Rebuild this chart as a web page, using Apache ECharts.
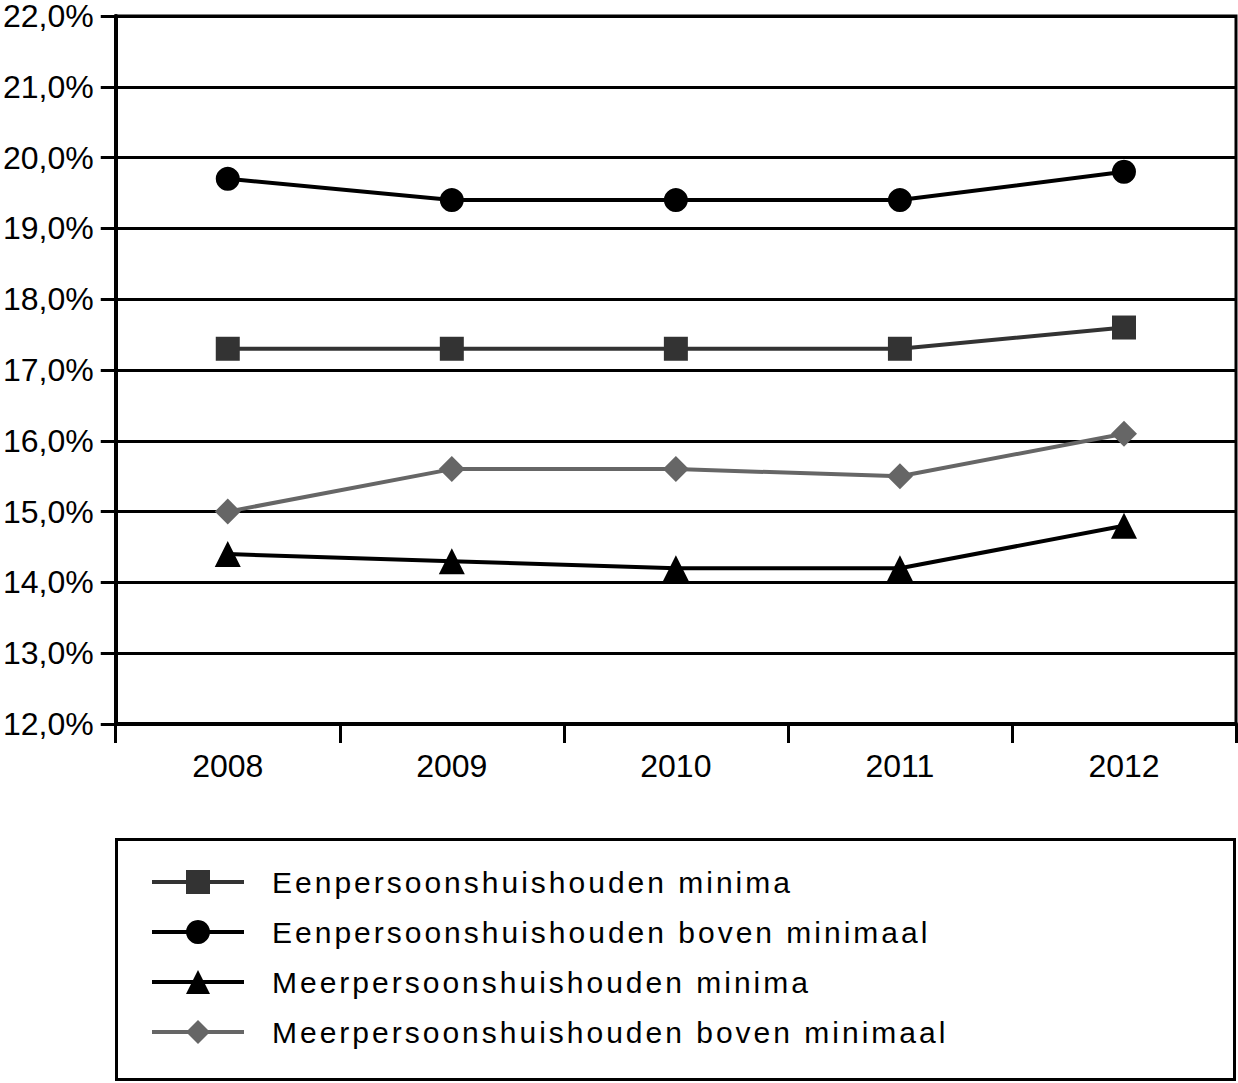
<!DOCTYPE html>
<html>
<head>
<meta charset="utf-8">
<script src="https://cdn.jsdelivr.net/npm/echarts@6/dist/echarts.min.js"></script>
<style>
  html, body { margin: 0; padding: 0; background: #fff; }
  #chart { width: 1238px; height: 1083px; }
  #chart text[style*="30px"] { letter-spacing: 3px; }
</style>
</head>
<body>
<div id="chart"></div>
<script>
const categories = ['2008', '2009', '2010', '2011', '2012'];
const eenMinima = [17.3, 17.3, 17.3, 17.3, 17.6];
const eenBoven = [19.7, 19.4, 19.4, 19.4, 19.8];
const meerMinima = [14.4, 14.3, 14.2, 14.2, 14.8];
const meerBoven = [15.0, 15.6, 15.6, 15.5, 16.1];
const seriesNames = [
  'Eenpersoonshuishouden minima',
  'Eenpersoonshuishouden boven minimaal',
  'Meerpersoonshuishouden minima',
  'Meerpersoonshuishouden boven minimaal'
];

const FONT = '"Liberation Sans", Arial, sans-serif';
const chart = echarts.init(document.getElementById('chart'), null, { renderer: 'svg' });

function mk(name, data, color, symbol, size) {
  return {
    name: name, type: 'line', data: data,
    symbol: symbol, symbolSize: size,
    lineStyle: { color: color, width: 4 },
    itemStyle: { color: color },
    emphasis: { disabled: true },
    animation: false
  };
}

chart.setOption({
  animation: false,
  backgroundColor: '#fff',
  grid: {
    left: 115, right: 2, top: 15, bottom: 359,
    show: true, borderColor: '#000', borderWidth: 3
  },
  xAxis: {
    type: 'category', data: categories, boundaryGap: true,
    axisLine: { lineStyle: { color: '#000', width: 4 } },
    axisTick: { show: true, length: 19, lineStyle: { color: '#000', width: 3 } },
    axisLabel: { color: '#000', fontSize: 32, fontFamily: FONT, margin: 26 },
    splitLine: { show: false }
  },
  yAxis: {
    type: 'value', min: 12, max: 22, interval: 1,
    axisLine: { show: true, lineStyle: { color: '#000', width: 4 } },
    axisTick: { show: true, length: 15, lineStyle: { color: '#000', width: 3 } },
    axisLabel: {
      color: '#000', fontSize: 32, fontFamily: FONT, margin: 22, lineHeight: 28,
      formatter: v => v.toFixed(1).replace('.', ',') + '%'
    },
    splitLine: { show: true, lineStyle: { color: '#000', width: 3 } }
  },
  legend: {
    orient: 'vertical', left: 150, top: 867, padding: 0,
    itemWidth: 92, itemHeight: 30, itemGap: 20,
    data: seriesNames,
    lineStyle: { width: 4 },
    textStyle: { color: '#000', fontSize: 30, fontFamily: FONT, padding: [0, 0, 0, 23], lineHeight: 30 },
    selectedMode: false
  },
  graphic: [{
    type: 'rect',
    shape: { x: 116.5, y: 839.5, width: 1118, height: 240 },
    style: { fill: 'none', stroke: '#000', lineWidth: 3 },
    silent: true
  }],
  series: [
    mk(seriesNames[0], eenMinima, '#333333', 'rect', 24),
    mk(seriesNames[1], eenBoven, '#000000', 'circle', 24),
    mk(seriesNames[2], meerMinima, '#000000', 'triangle', 26),
    mk(seriesNames[3], meerBoven, '#666666', 'diamond', 26)
  ]
});
</script>
</body>
</html>
